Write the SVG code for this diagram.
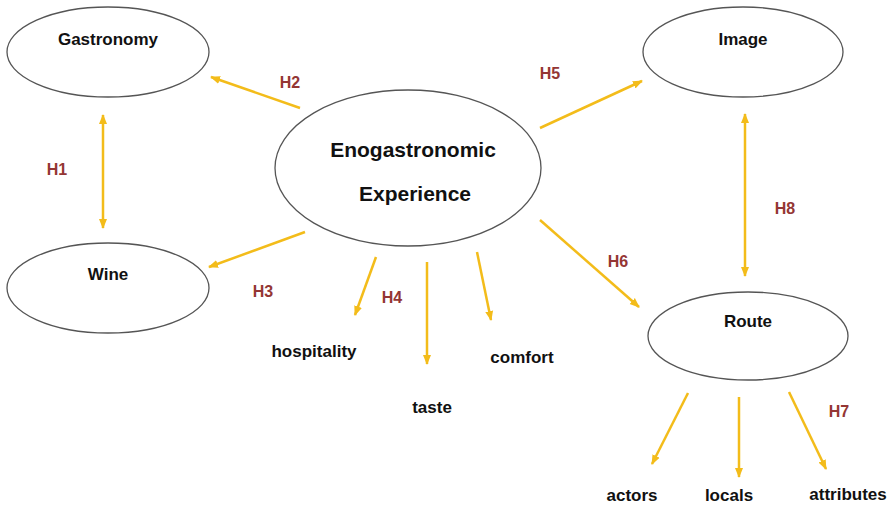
<svg xmlns="http://www.w3.org/2000/svg" width="893" height="505" viewBox="0 0 893 505">
<defs>
<marker id="ah" viewBox="0 0 10 10" refX="9" refY="5" markerWidth="4" markerHeight="4" orient="auto-start-reverse" markerUnits="strokeWidth">
<path d="M0,1 L10,5 L0,9 z" fill="#F3BC1A"/>
</marker>
<style>
.n{fill:#fff;stroke:#555;stroke-width:1.3}
.t{font-family:"Liberation Sans",Arial,sans-serif;font-weight:bold;font-size:17px;fill:#111;text-anchor:middle}
.big{font-size:21px}
.h{font-family:"Liberation Sans",Arial,sans-serif;font-weight:bold;font-size:16px;fill:#943634;text-anchor:middle}
.c{stroke:#F3BC1A;stroke-width:2.5;fill:none;marker-end:url(#ah)}
.d{marker-start:url(#ah)}
</style>
</defs>
<rect width="893" height="505" fill="#fff"/>
<g id="connectors">
<line class="c d" x1="103" y1="115" x2="103" y2="228"/>
<line class="c" x1="300" y1="108" x2="211" y2="77"/>
<line class="c" x1="305" y1="232" x2="209" y2="267"/>
<line class="c" x1="376" y1="257" x2="355" y2="315"/>
<line class="c" x1="427" y1="262" x2="427" y2="364"/>
<line class="c" x1="477" y1="252" x2="491" y2="320"/>
<line class="c" x1="540" y1="128" x2="642" y2="81"/>
<line class="c" x1="540" y1="220" x2="639" y2="307"/>
<line class="c d" x1="745" y1="114" x2="745" y2="276"/>
<line class="c" x1="688" y1="393" x2="652" y2="464"/>
<line class="c" x1="739" y1="397" x2="739" y2="477"/>
<line class="c" x1="789" y1="392" x2="826" y2="469"/>
</g>
<g id="gastronomy"><ellipse class="n" cx="108" cy="52" rx="101" ry="45"/><text class="t" x="108" y="45">Gastronomy</text></g>
<g id="wine"><ellipse class="n" cx="108" cy="288" rx="101" ry="45"/><text class="t" x="108" y="280">Wine</text></g>
<g id="experience"><ellipse class="n" cx="408" cy="168" rx="133" ry="78"/><text class="t big" x="413" y="157">Enogastronomic</text><text class="t big" x="415" y="201">Experience</text></g>
<g id="image"><ellipse class="n" cx="743" cy="52" rx="100" ry="45"/><text class="t" x="743" y="45">Image</text></g>
<g id="route"><ellipse class="n" cx="748" cy="336" rx="100" ry="44"/><text class="t" x="748" y="327">Route</text></g>
<g id="hospitality"><text class="t" x="314" y="357">hospitality</text></g>
<g id="taste"><text class="t" x="432" y="413">taste</text></g>
<g id="comfort"><text class="t" x="522" y="363">comfort</text></g>
<g id="actors"><text class="t" x="632" y="501">actors</text></g>
<g id="locals"><text class="t" x="729" y="501">locals</text></g>
<g id="attributes"><text class="t" x="848" y="500">attributes</text></g>
<g id="labels">
<text class="h" x="57" y="175">H1</text>
<text class="h" x="290" y="88">H2</text>
<text class="h" x="263" y="297">H3</text>
<text class="h" x="392" y="303">H4</text>
<text class="h" x="550" y="79">H5</text>
<text class="h" x="618" y="267">H6</text>
<text class="h" x="839" y="417">H7</text>
<text class="h" x="785" y="214">H8</text>
</g>
</svg>
